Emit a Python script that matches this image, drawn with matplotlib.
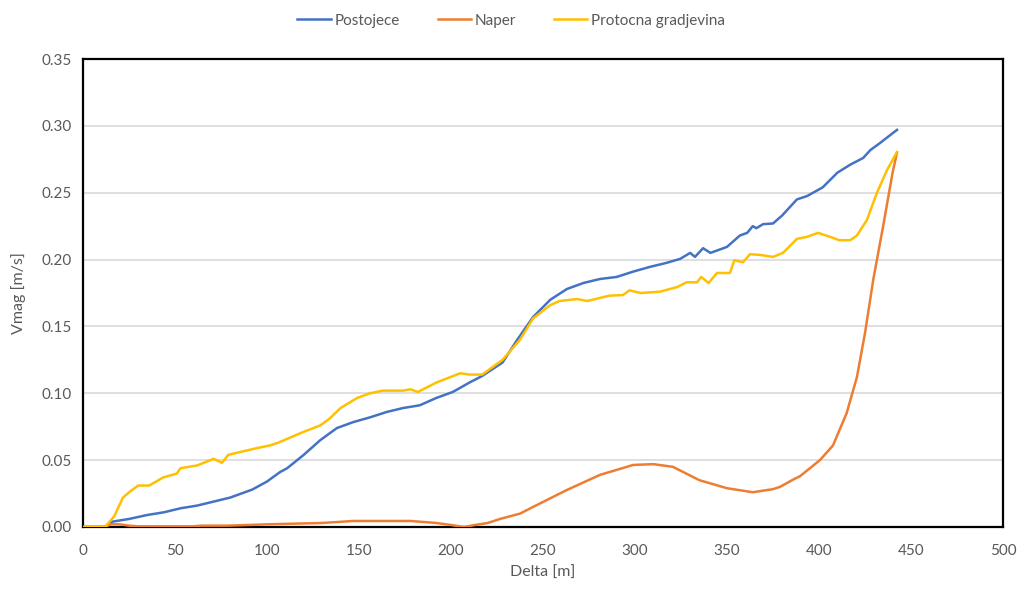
import matplotlib
matplotlib.use("Agg")
import matplotlib.pyplot as plt

plt.rcParams['font.family'] = ['Lato', 'DejaVu Sans']

# Postojece (blue)
post_x = [0, 12, 13, 16, 25, 35, 44, 53, 62, 71, 80, 86, 92, 100, 107, 111, 120, 129, 138, 147,
          156, 165, 174, 183, 192, 201, 210, 217, 228, 236, 244.6, 254, 263, 272, 281, 290, 299,
          308, 317, 324.5, 330, 332.6, 337, 341, 350, 357, 361, 364, 366, 369.6, 375, 380, 388,
          393.5, 402, 410, 417, 424, 428, 433, 438.6, 442.4]
post_y = [0, 0, 0.001, 0.004, 0.006, 0.009, 0.011, 0.014, 0.016, 0.019, 0.022, 0.025, 0.028, 0.034,
          0.041, 0.044, 0.054, 0.065, 0.074, 0.0785, 0.082, 0.086, 0.089, 0.091, 0.0965, 0.101, 0.108,
          0.113, 0.123, 0.140, 0.157, 0.170, 0.178, 0.1825, 0.1855, 0.187, 0.191, 0.1945, 0.1975,
          0.2005, 0.205, 0.202, 0.2085, 0.205, 0.2095, 0.218, 0.220, 0.225, 0.2235, 0.2265, 0.227,
          0.233, 0.245, 0.2475, 0.254, 0.265, 0.271, 0.276, 0.282, 0.287, 0.293, 0.297]

# Naper (orange)
naper_x = [0, 12, 15, 20, 25, 30, 60, 64, 78, 90, 100, 130, 147, 178, 192, 200, 207, 213, 220,
           226.6, 237.5, 244.6, 263, 281, 299, 310, 320.6, 335, 350, 364, 375, 378.8, 386, 389.7,
           400.5, 407.6, 415, 420.6, 425, 429.5, 434.8, 440, 442.4]
naper_y = [0, 0, 0.002, 0.002, 0.001, 0.0005, 0.0005, 0.001, 0.001, 0.0015, 0.002, 0.003, 0.0045,
           0.0045, 0.003, 0.0015, 0.0, 0.0015, 0.003, 0.006, 0.010, 0.015, 0.0277, 0.039, 0.0464,
           0.047, 0.045, 0.035, 0.029, 0.026, 0.0283, 0.030, 0.0355, 0.038, 0.050, 0.061, 0.085,
           0.112, 0.145, 0.185, 0.2245, 0.265, 0.280]

# Protocna gradjevina (yellow)
prot_x = [0, 12, 17, 21.7, 26, 30, 36, 43.5, 51, 53, 62, 71, 75.5, 79, 94.5, 101.6, 106, 119.6,
          129, 134, 140, 149, 156, 163, 174, 178, 182, 192, 205, 210, 217, 228, 237.5, 244.6, 254,
          259, 268.5, 274, 286, 293.5, 297, 303, 313.6, 323, 328, 333.7, 336, 340, 344.6, 351.6,
          354, 358.7, 362.5, 368, 375, 380.4, 388, 393.5, 399.5, 406, 411, 417, 420.6, 426, 431.5,
          437, 442.4]
prot_y = [0, 0, 0.008, 0.022, 0.027, 0.031, 0.031, 0.037, 0.040, 0.044, 0.046, 0.051, 0.048, 0.054,
          0.059, 0.061, 0.063, 0.071, 0.076, 0.081, 0.089, 0.0965, 0.100, 0.102, 0.102, 0.103, 0.101,
          0.108, 0.115, 0.114, 0.114, 0.125, 0.140, 0.156, 0.166, 0.169, 0.1705, 0.169, 0.173,
          0.1735, 0.177, 0.175, 0.176, 0.1795, 0.183, 0.183, 0.187, 0.1825, 0.190, 0.190, 0.1995,
          0.198, 0.204, 0.2035, 0.202, 0.205, 0.2155, 0.217, 0.220, 0.217, 0.2145, 0.2145, 0.218,
          0.2295, 0.250, 0.267, 0.2805]

x_ticks = [0, 50, 100, 150, 200, 250, 300, 350, 400, 450, 500]
y_ticks = [0.00, 0.05, 0.10, 0.15, 0.20, 0.25, 0.30, 0.35]

fig = plt.figure(figsize=(10.22, 5.92), dpi=100)
ax = fig.add_axes([0.0812, 0.1098, 0.9002, 0.7905])

ax.plot(post_x, post_y, color='#4472C4', lw=1.8, label='Postojece', zorder=3)
ax.plot(naper_x, naper_y, color='#ED7D31', lw=1.8, label='Naper', zorder=3)
ax.plot(prot_x, prot_y, color='#FFC000', lw=1.8, label='Protocna gradjevina', zorder=3)

ax.set_xlim(0, 500)
ax.set_ylim(0, 0.35)
ax.set_xticks(x_ticks)
ax.set_yticks(y_ticks)
ax.set_yticklabels([f"{v:.2f}" for v in y_ticks])
ax.grid(axis='y', color='#D9D9D9', lw=1.2, zorder=0)
ax.set_axisbelow(True)
ax.tick_params(axis='y', length=0, labelsize=11, labelcolor='#595959', pad=8)
ax.tick_params(axis='x', length=0, labelsize=11, labelcolor='#595959', pad=12)
for s in ax.spines.values():
    s.set_color('black')
    s.set_linewidth(1.6)

ax.set_xlabel('Delta [m]', fontsize=11.5, color='#595959', labelpad=6)
ax.set_ylabel('Vmag [m/s]', fontsize=11.5, color='#595959', labelpad=11)

leg = fig.legend(loc='upper center', bbox_to_anchor=(0.5, 1.0), ncol=3, frameon=False,
                 fontsize=11, handlelength=2.2, columnspacing=2.5, handletextpad=0.2)
for t in leg.get_texts():
    t.set_color('#595959')

fig.savefig('out.png', dpi=100)
